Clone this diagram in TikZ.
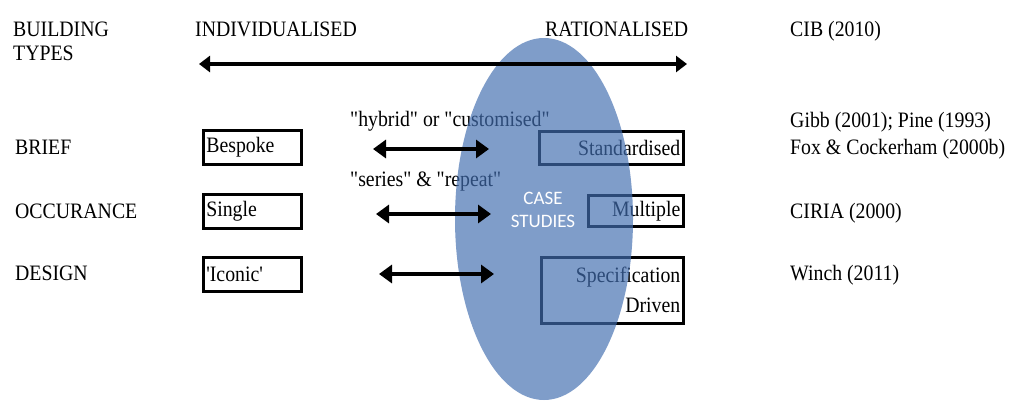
\documentclass[tikz,border=0pt]{standalone}
\usepackage{fontspec}
\setmainfont[Ligatures=TeXOff,FakeStretch=0.9]{Liberation Serif}
\newfontfamily\casefont{Carlito}
\usetikzlibrary{arrows.meta}
\definecolor{ellblue}{RGB}{66,110,176}
\begin{document}
\begin{tikzpicture}[x=1pt,y=-1pt,
  txt/.style={anchor=base west,inner sep=0pt,font=\fontsize{22}{24}\selectfont},
  bx/.style={draw,line width=2.6pt,inner sep=3pt,font=\fontsize{22}{30}\selectfont,anchor=north west},
  rowarr/.style={line width=3.6pt,{Triangle[length=13pt,width=18pt]}-{Triangle[length=13pt,width=18pt]}},
  toparr/.style={line width=3.4pt,{Triangle[length=11pt,width=16pt]}-{Triangle[length=11pt,width=16pt]}}]
\useasboundingbox (0,0) rectangle (1012,400);
% header texts
\node[txt] (bt1) at (13,36) {BUILDING};
\node[txt] (bt2) at (13,60) {TYPES};
\node[txt] (ind) at (195,36) {INDIVIDUALISED};
\node[txt] (rat) at (545,36) {RATIONALISED};
\node[txt] (cib) at (790,36) {CIB (2010)};
% row labels
\node[txt] (brief) at (15,154) {BRIEF};
\node[txt] (occ) at (15,218) {OCCURANCE};
\node[txt] (des) at (15,280) {DESIGN};
% references
\node[txt] (gibb) at (790,127) {Gibb (2001); Pine (1993)};
\node[txt] (fox) at (790,154) {Fox \& Cockerham (2000b)};
\node[txt] (ciria) at (790,218) {CIRIA (2000)};
\node[txt] (winch) at (790,280) {Winch (2011)};
% arrow labels
\node[txt] (hyb) at (350,126) {"hybrid" or "customised"};
\node[txt] (ser) at (350,186) {"series" \& "repeat"};
% left boxes
\node[bx,minimum width=98pt,minimum height=34pt,text width=92pt,align=left] (besp) at (202,129) {Bespoke};
\node[bx,minimum width=98pt,minimum height=34pt,text width=92pt,align=left] (sing) at (202,193) {Single};
\node[bx,minimum width=98pt,minimum height=34pt,text width=92pt,align=left] (icon) at (202,256) {'Iconic'};
% right boxes
\node[bx,minimum width=144pt,minimum height=33pt,text width=138pt,align=right] (stand) at (538,130) {Standardised};
\node[bx,minimum width=95pt,minimum height=31pt,text width=89pt,align=right] (mult) at (587,194) {Multiple};
\node[bx,minimum width=142pt,minimum height=66pt,text width=136pt,align=right] (spec) at (540,256) {Specification\\Driven};
% ellipse
\fill[ellblue,fill opacity=0.68] (544,219) ellipse [x radius=89, y radius=181];
\node[anchor=center,inner sep=0pt,text=white,align=center,font=\casefont\fontsize{19}{23}\selectfont] (cs) at (543,210) {CASE\\STUDIES};
% arrows
\coordinate (t1) at (199,64);
\coordinate (t2) at (687,64);
\draw[toparr] (t1) -- (t2);
\coordinate (a1) at (373,149);
\coordinate (a2) at (489,149);
\draw[rowarr] (a1) -- (a2);
\coordinate (b1) at (376,214);
\coordinate (b2) at (491,214);
\draw[rowarr] (b1) -- (b2);
\coordinate (c1) at (379,274);
\coordinate (c2) at (494,274);
\draw[rowarr] (c1) -- (c2);
\end{tikzpicture}
\end{document}
